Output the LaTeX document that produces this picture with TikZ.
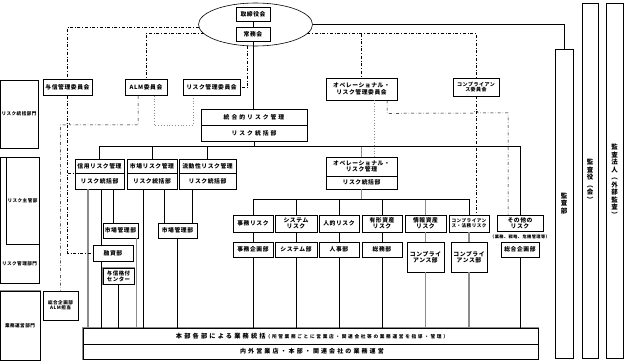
\documentclass[tikz,border=0pt]{standalone}
\usepackage{fontspec}
\usetikzlibrary{shapes.geometric}
\newfontfamily\jp[LetterSpace=10]{Noto Sans CJK JP}
\newfontfamily\jpw[LetterSpace=35]{Noto Sans CJK JP}
\definecolor{cinza}{RGB}{140,140,140}

\begin{document}
\begin{tikzpicture}[x=1pt, y=-1pt,
    caixa/.style={draw, fill=white, line width=0.6pt, inner sep=0pt, align=center,
      font=\jp\bfseries\fontsize{5.8}{6.4}\selectfont},
    tam/.style 2 args={minimum width=#1pt, minimum height=#2pt},
    medio/.style={font=\jp\bfseries\fontsize{5}{5.8}\selectfont},
    miudo/.style={font=\jp\bfseries\fontsize{4.6}{5.4}\selectfont},
    nota/.style={font=\jp\bfseries\fontsize{4.2}{5}\selectfont, inner sep=0pt},
    largo/.style={font=\jpw\bfseries\fontsize{5.8}{6.4}\selectfont},
    vert/.style={font=\jp\bfseries\fontsize{6.5}{7.5}\selectfont},
    duplo/.style={draw=black, line width=0.5pt, preaction={draw=cinza, line width=2.4pt}},
    liga/.style={line width=0.6pt},
    linhacinza/.style={cinza, line width=1.1pt},
    traco/.style={dash dot, line width=0.5pt},
    pont/.style={dotted, cinza, line width=0.8pt}]
  \useasboundingbox (0,0) rectangle (625,361);

  % topo
  \node[ellipse, draw, fill=white, line width=0.6pt, inner sep=0pt, minimum width=114pt, minimum height=43pt] (dir) at (255.5,24.5) {};
  \node[caixa, tam={34}{14}] (tori) at (253,14) {取締役会};
  \node[caixa, tam={34}{14}] (joumu) at (253,34) {常務会};

  % comites
  \node[caixa, tam={49}{16}] (yoshin) at (67.5,87.5) {与信管理委員会};
  \node[caixa, tam={42}{16}] (alm) at (146,87.5) {ALM委員会};
  \node[caixa, tam={57}{16}] (riskcom) at (211.5,87.5) {リスク管理委員会};
  \node[caixa, tam={71}{22}] (opcom) at (361.5,89) {オペレーショナル・\\リスク管理委員会};
  \node[caixa, tam={46}{18}, medio] (compcom) at (476,87) {コンプライアン\\ス委員会};

  % coluna esquerda
  \node[caixa, tam={38}{68}, miudo] (depto1) at (19,114) {リスク統括部門};
  \node[caixa, tam={39}{126}] (depto2) at (19.5,220) {};
  \node[caixa, tam={33}{87}, miudo] (shukan) at (22.5,200.5) {リスク主管部};
  \node[miudo] (kanri) at (19.5,264) {リスク管理部門};
  \node[caixa, duplo, tam={40}{69}, miudo] (depto3) at (20,325.5) {業務運営部門};
  \node[caixa, tam={35}{29}, miudo] (almtan) at (60.5,305.5) {総合企画部\\ALM担当};

  % gestao integrada
  \node[caixa, largo, tam={106}{16}] (toug1) at (254,117) {統合的リスク管理};
  \node[caixa, largo, tam={106}{16}] (toug2) at (254,133) {リスク統括部};

  \node[caixa, tam={49}{14}] (shin1) at (99.5,166) {信用リスク管理};
  \node[caixa, tam={49}{16}] (shin2) at (99.5,181) {リスク統括部};
  \node[caixa, tam={50}{14}] (shijo1) at (152,166) {市場リスク管理};
  \node[caixa, tam={50}{16}] (shijo2) at (152,181) {リスク統括部};
  \node[caixa, tam={57}{14}] (ryudo1) at (207.5,166) {流動性リスク管理};
  \node[caixa, tam={57}{16}] (ryudo2) at (207.5,181) {リスク統括部};

  \node[caixa, tam={35}{15}] (ichiba1) at (120.5,230.5) {市場管理部};
  \node[caixa, tam={39}{15}] (ichiba2) at (177.5,230.5) {市場管理部};
  \node[caixa, tam={40}{16}] (yushi) at (113,253) {融資部};
  \node[caixa, duplo, tam={31}{16}, font=\jp\bfseries\fontsize{5.4}{5.8}\selectfont] (kaku) at (118.5,276) {与信格付\\センター};

  % operacional
  \node[caixa, tam={71}{19}] (op1) at (361.5,166.5) {オペレーショナル・\\リスク管理};
  \node[caixa, tam={71}{13}] (op2) at (361.5,182.5) {リスク統括部};

  \node[caixa, tam={40}{17}] (jimu) at (253,223.5) {事務リスク};
  \node[caixa, tam={42}{17}] (sys) at (296,223.5) {システム\\リスク};
  \node[caixa, tam={40}{17}] (jin) at (339,223.5) {人的リスク};
  \node[caixa, tam={40}{17}] (yukei) at (382,223.5) {有形資産\\リスク};
  \node[caixa, tam={41}{17}] (joho) at (425.5,223.5) {情報資産\\リスク};
  \node[caixa, tam={40}{17}, miudo] (comp) at (469,223.5) {コンプライアン\\ス・法務リスク};
  \node[caixa, tam={46}{16}] (sonota) at (520,223) {その他の\\リスク};
  \node[nota] (sonotaobs) at (520,236.5) {（業務、戦略、危機管理等）};

  \node[caixa, tam={40}{15}] (jimuk) at (253,249.5) {事務企画部};
  \node[caixa, tam={42}{15}] (sysbu) at (296,249.5) {システム部};
  \node[caixa, tam={40}{15}] (jinji) at (339,249.5) {人事部};
  \node[caixa, tam={40}{15}] (somu) at (382,249.5) {総務部};
  \node[caixa, tam={37}{30}] (compbu1) at (425.5,257) {コンプライ\\アンス部};
  \node[caixa, tam={36}{30}] (compbu2) at (469,257) {コンプライ\\アンス部};
  \node[caixa, tam={38}{15}] (sogo) at (520,249.5) {総合企画部};

  % barra inferior
  \node[caixa, duplo, tam={455}{31}] (barra) at (310.5,343.5) {};
  \draw[liga] (barra.west |- 0,344) -- (barra.east |- 0,344);
  \node[font=\jpw\bfseries\fontsize{6.2}{7}\selectfont, inner sep=0pt] (barra1) at (312,336.5)
    {本部各部による業務統括{\fontsize{4.7}{5}\selectfont（所管業務ごとに営業店・関連会社等の業務運営を指導・管理）}};
  \node[font=\jpw\bfseries\fontsize{6}{7}\selectfont, inner sep=0pt] (barra2) at (312,351.5) {内外営業店・本部・関連会社の業務運営};

  % auditoria
  \node[caixa, vert, tam={18}{309}] (kansabu) at (564,203.5) {監\\査\\部};
  \node[caixa, vert, tam={16}{355}] (kansayaku) at (590,180.5) {監\\査\\役\\︵\\会\\︶};
  \node[caixa, vert, tam={17}{355}] (hojin) at (614.5,180.5) {監\\査\\法\\人\\︵\\外\\部\\監\\査\\︶};

  % ligacoes solidas
  \draw[liga] (tori) -- (joumu);
  \draw[liga] (joumu.south) -- (joumu.south |- toug1.north);
  \draw[liga] (dir.east) -| (kansabu.north);
  \draw[liga] (toug2.south) -- ++(0,6);
  \draw[liga] (shin1.north) -- ++(0,-12) -| (sonota.north);
  \foreach \n in {shijo1, ryudo1}
    \draw[liga] (\n.north) -- (\n.north |- 0,147);
  \draw[linhacinza] (op1.north) -- (op1.north |- 0,147);
  \draw[linhacinza] (op2.south) -- ++(0,11);
  \draw[liga] (jimu.north) -- ++(0,-15) -| (comp.north);
  \foreach \n in {sys, jin, yukei}
    \draw[liga] (\n.north) -- (\n.north |- 0,200);
  \draw[linhacinza] (joho.north) -- (joho.north |- 0,200);
  \foreach \a/\b in {jimu/jimuk, sys/sysbu, jin/jinji, yukei/somu}
    \draw[liga] (\a) -- (\b);
  \draw[linhacinza] (joho) -- (compbu1);
  \draw[linhacinza] (comp) -- (compbu2);
  \foreach \n in {jimuk, sysbu, jinji, somu, sogo}
    \draw[liga] (\n.south) -- (\n.south |- barra.north);
  \foreach \n in {compbu1, compbu2}
    \draw[linhacinza] (\n.south) -- (\n.south |- barra.north);

  \draw[linhacinza] (shin2.south -| 88,0) -- (barra.north -| 88,0);
  \draw[liga] (shin2.south -| 101,0) -- (yushi.north -| 101,0);
  \draw[liga] (yushi.south -| 101,0) -- (barra.north -| 101,0);
  \draw[liga] (shin2.south -| 113,0) -- (ichiba1.north -| 113,0);
  \draw[liga] (kaku) -- (kaku |- barra.north);
  \draw[linhacinza] (ichiba1.south -| 136.5,0) -- (barra.north -| 136.5,0);
  \draw[liga] (shijo2.south -| 143,0) -- (barra.north -| 143,0);
  \draw[liga] (shijo2.south -| 164,0) -- (ichiba2.north -| 164,0);
  \draw[liga] (ichiba2) -- (ichiba2 |- barra.north);
  \draw[liga] (ryudo2.south -| 192,0) -- (ichiba2.north -| 192,0);

  % ligacoes dos comites
  \draw[traco] (dir.183) -| (yoshin.north);
  \draw[traco] (dir.190) -| (alm.north);
  \draw[traco] (dir.250) |- (riskcom.east);
  \draw[traco] (dir.-10) -| (compcom.north);
  \draw[traco] (opcom.north |- dir.-10) -- (opcom.north);
  \draw[traco] (yoshin.south) |- (yushi.west);
  \draw[traco] (yoshin.south |- shin1.south) -- (shin1.south west);
  \draw[traco] ([xshift=-8pt]alm.south) |- (70,125) arc (0:-180:2) -- (almtan.north |- 0,125) -- (almtan.north);
  \draw[pont] ([xshift=8pt]alm.south) -- ++(0,29.5) -| ([xshift=-18.5pt]riskcom.south);
  \draw[pont] ([xshift=12.5pt]opcom.south) -- ([xshift=12.5pt]opcom.south |- op1.north);
  \draw[traco] ([xshift=25.5pt]opcom.south) -- ++(0,13) -- (474,113) arc (-180:0:2) -| ([xshift=-12pt]sonota.north);
  \draw[traco] (compcom.south) -- (compcom.south |- comp.north);
\end{tikzpicture}
\end{document}
